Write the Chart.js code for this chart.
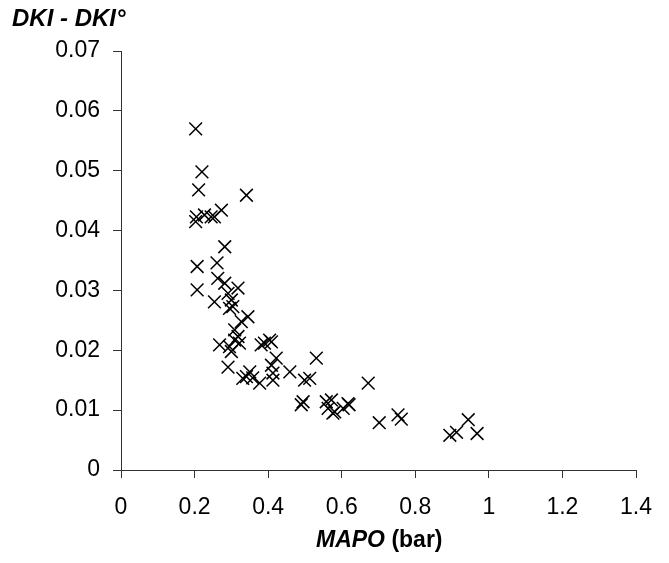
<!DOCTYPE html>
<html>
<head>
<meta charset="utf-8">
<script src="https://cdn.jsdelivr.net/npm/chart.js@4.4.0/dist/chart.umd.min.js"></script>
<style>
    html, body { margin: 0; padding: 0; background: #fff; }
    #wrap { position: relative; width: 669px; height: 563px; }
    .ttl { position: absolute; font-family: "Liberation Sans", Arial, sans-serif; font-weight: bold; color: #000; white-space: nowrap; line-height: 1; }
</style>
</head>
<body>
<div id="wrap">
    <canvas id="dki-chart" width="669" height="563"></canvas>
    <div class="ttl" style="left: 12px; top: 6px; font-size: 24px;"><i>DKI - DKI°</i></div>
    <div class="ttl" style="left: 316px; top: 528px; font-size: 23px;"><i>MAPO</i> (bar)</div>
</div>
<script>
// MAPO (bar)
const mapo = [0.203, 0.220, 0.211, 0.341, 0.273, 0.205, 0.203, 0.227, 0.245, 0.254,
    0.282, 0.207, 0.261, 0.207, 0.263, 0.282, 0.318, 0.254, 0.291, 0.300,
    0.304, 0.295, 0.345, 0.327, 0.309, 0.318, 0.309, 0.322, 0.268, 0.295,
    0.300, 0.381, 0.404, 0.390, 0.409, 0.422, 0.409, 0.531, 0.350, 0.341,
    0.377, 0.413, 0.413, 0.459, 0.499, 0.513, 0.291, 0.331, 0.358, 0.495,
    0.490, 0.558, 0.563, 0.576, 0.604, 0.617, 0.572, 0.581, 0.620, 0.672,
    0.702, 0.753, 0.762, 0.894, 0.912, 0.944, 0.968];
// DKI - DKI°
const dki = [0.0570, 0.0498, 0.0468, 0.0459, 0.0434, 0.0423, 0.0415, 0.0426, 0.0423, 0.0423,
    0.0373, 0.0340, 0.0346, 0.0301, 0.0320, 0.0312, 0.0304, 0.0281, 0.0295, 0.0284,
    0.0273, 0.0270, 0.0256, 0.0248, 0.0234, 0.0223, 0.0217, 0.0212, 0.0209, 0.0206,
    0.0198, 0.0209, 0.0217, 0.0212, 0.0214, 0.0187, 0.0175, 0.0187, 0.0164, 0.0156,
    0.0145, 0.0162, 0.0150, 0.0164, 0.0150, 0.0153, 0.0172, 0.0153, 0.0154, 0.0114,
    0.0109, 0.0114, 0.0103, 0.0095, 0.0103, 0.0111, 0.0117, 0.0097, 0.0109, 0.0145,
    0.0079, 0.0092, 0.0085, 0.0058, 0.0063, 0.0084, 0.0061];

const xTicks = [0, 0.2, 0.4, 0.6, 0.8, 1, 1.2, 1.4];
const yTicks = [0, 0.01, 0.02, 0.03, 0.04, 0.05, 0.06, 0.07];

const tickFont = { family: '"Liberation Sans", Arial, sans-serif', size: 23 };
const axisColor = '#333';

let points = mapo.map((x, i) => ({ x: x, y: dki[i] }));

new Chart(document.getElementById('dki-chart'), {
    type: 'scatter',
    data: {
        datasets: [{
            data: points,
            pointStyle: 'crossRot',
            pointRadius: 9,
            pointHoverRadius: 9,
            borderColor: '#000',
            backgroundColor: '#000',
            pointBorderWidth: 1.5
        }]
    },
    options: {
        responsive: false,
        animation: false,
        layout: { padding: { top: 51, right: 33, left: 0, bottom: 0 } },
        plugins: { legend: { display: false }, tooltip: { enabled: false } },
        scales: {
            x: {
                type: 'linear',
                min: 0, max: 1.4,
                afterBuildTicks: (s) => { s.ticks = xTicks.map(v => ({ value: v })); },
                afterFit: (s) => { s.height = 93; },
                ticks: {
                    color: '#000', font: tickFont, padding: 16,
                    maxRotation: 0,
                    callback: (v) => String(+v.toFixed(1))
                },
                grid: { drawOnChartArea: false, drawTicks: true, tickLength: 8, color: axisColor },
                border: { color: axisColor, width: 1 }
            },
            y: {
                type: 'linear',
                min: 0, max: 0.07,
                afterBuildTicks: (s) => { s.ticks = yTicks.map(v => ({ value: v })); },
                afterFit: (s) => { s.width = 121; },
                ticks: {
                    color: '#000', font: tickFont, padding: 13,
                    callback: (v) => String(+v.toFixed(2))
                },
                grid: { drawOnChartArea: false, drawTicks: true, tickLength: 8, color: axisColor },
                border: { color: axisColor, width: 1 }
            }
        }
    }
});
</script>
</body>
</html>
